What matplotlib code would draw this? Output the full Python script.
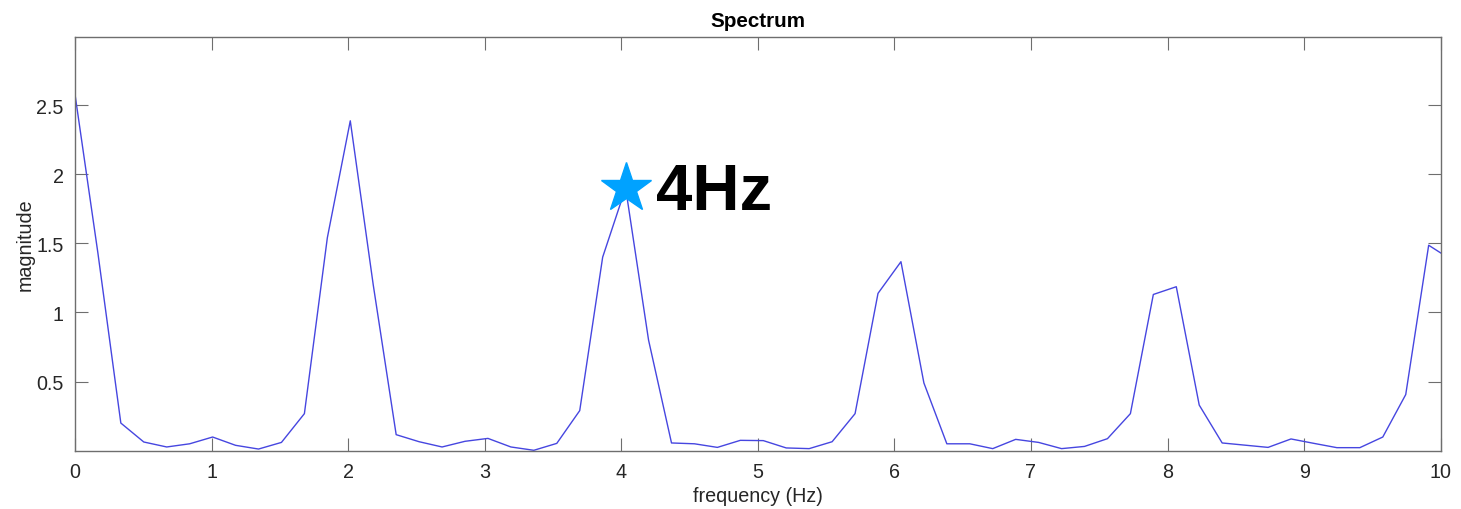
import numpy as np
import matplotlib
matplotlib.use('Agg')
import matplotlib.pyplot as plt

plt.rcParams['font.family'] = ['Liberation Sans', 'DejaVu Sans']

# frequency bin spacing (Hz)
DF = 0.168

# spectrum magnitude per bin
magnitude = [2.58, 1.43, 0.20, 0.063, 0.027, 0.05, 0.099, 0.039, 0.012, 0.06,
             0.268, 1.54, 2.386, 1.2, 0.116, 0.065, 0.027, 0.068, 0.089, 0.027,
             0.003, 0.053, 0.29, 1.40, 1.90, 0.80, 0.056, 0.05, 0.024, 0.075,
             0.073, 0.02, 0.015, 0.065, 0.268, 1.138, 1.367, 0.49, 0.05, 0.05,
             0.015, 0.082, 0.06, 0.015, 0.031, 0.087, 0.268, 1.13, 1.186, 0.33,
             0.056, 0.04, 0.024, 0.085, 0.053, 0.022, 0.022, 0.099, 0.406, 1.486,
             1.38]
freq = np.arange(len(magnitude)) * DF

peak_index = 24
peak_label = '4Hz'

x_ticks = list(range(0, 11))
y_ticks = [0.5, 1, 1.5, 2, 2.5]
y_tick_labels = ['0.5', '1', '1.5', '2', '2.5']

fig = plt.figure(figsize=(14.61, 5.10), dpi=100)
ax = fig.add_axes([0.0513, 0.1143, 0.9348, 0.8106])

ax.plot(freq, magnitude, color='#4646e0', linewidth=1.0)

# mark the 4 Hz peak
ax.plot(freq[peak_index], magnitude[peak_index], marker='*', color='#00a2ff',
        markersize=38, linestyle='none')
ax.text(freq[peak_index] + 0.22, magnitude[peak_index] - 0.15, peak_label,
        fontsize=47, fontweight='bold', color='black', va='baseline')

ax.set_xlim(0, 10)
ax.set_ylim(0, 2.99)
ax.set_xticks(x_ticks)
ax.set_yticks(y_ticks)
ax.set_yticklabels(y_tick_labels)

ax.tick_params(direction='in', length=9.5, width=0.8, colors='#6e6e6e',
               labelcolor='#262626', labelsize=14.2, top=True, right=True, pad=8)
for side in ax.spines.values():
    side.set_color('#6e6e6e')
    side.set_linewidth(1.0)

ax.set_title('Spectrum', fontsize=14.9, fontweight='bold', color='black', pad=8)
ax.set_xlabel('frequency (Hz)', fontsize=14.2, color='#262626', labelpad=4)
ax.set_ylabel('magnitude', fontsize=14.2, color='#262626', labelpad=1)

fig.savefig('out.png', dpi=100)
